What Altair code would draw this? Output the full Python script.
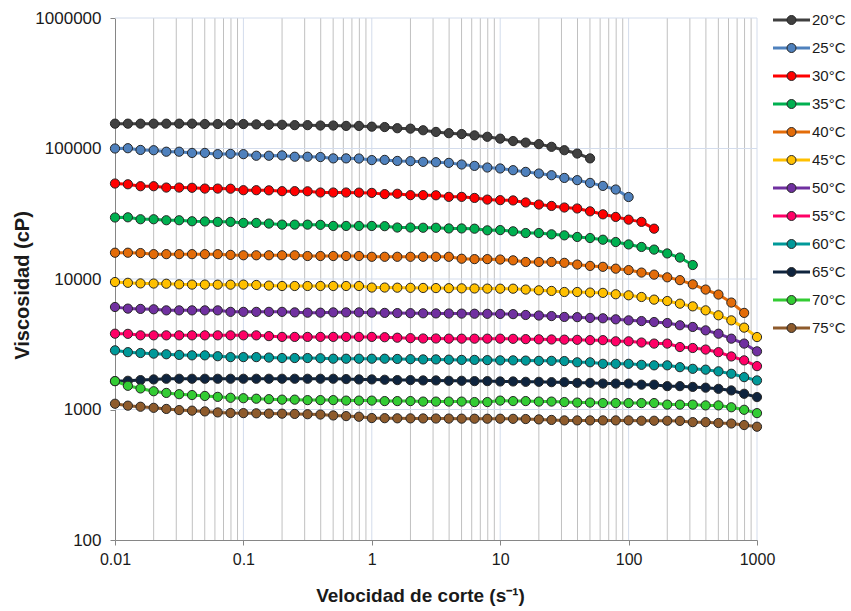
import altair as alt
import pandas as pd

# ---------------- data ----------------
shear = [0.01, 0.0126, 0.0158, 0.02, 0.0251, 0.0316, 0.0398, 0.0501, 0.0631, 0.0794,
         0.1, 0.126, 0.158, 0.2, 0.251, 0.316, 0.398, 0.501, 0.631, 0.794,
         1, 1.26, 1.58, 2, 2.51, 3.16, 3.98, 5.01, 6.31, 7.94,
         10, 12.6, 15.8, 20, 25.1, 31.6, 39.8, 50.1, 63.1, 79.4,
         100, 126, 158, 200, 251, 316, 398, 501, 631, 794, 1000]

temps = ["20°C", "25°C", "30°C", "35°C", "40°C", "45°C",
         "50°C", "55°C", "60°C", "65°C", "70°C", "75°C"]
colors = ["#404040", "#4f81bd", "#ff0000", "#00b050", "#e36c09", "#ffc000",
          "#7030a0", "#ff0066", "#009999", "#0f243e", "#33cc33", "#8e5b2c"]

visc_20 = [155000, 155000, 155000, 155000, 155000, 155000, 155000, 154000, 154000, 154000,
           154000, 153000, 152000, 152000, 151000, 151000, 150000, 150000, 149000, 149000,
           147000, 146000, 143000, 142000, 138000, 134000, 131000, 129000, 126000, 123000,
           119000, 114000, 111000, 108000, 103000, 97000, 91500, 84000]
visc_25 = [100000, 100500, 97500, 97000, 94500, 94500, 92500, 92500, 90500, 91000,
           90500, 88000, 88000, 88500, 86500, 86500, 86000, 84000, 84000, 83800,
           81500, 81800, 80300, 80000, 79000, 78500, 77600, 75400, 73600, 71500,
           70300, 68200, 66200, 64300, 62400, 59500, 57200, 54500, 51700, 48500, 42500]
visc_30 = [53900, 53200, 51400, 51400, 50200, 50200, 50000, 49300, 49300, 49200,
           47900, 47900, 47800, 47100, 47100, 47000, 46000, 46000, 46000, 45900,
           45700, 44700, 45000, 43900, 43900, 43800, 42600, 42600, 41800, 40600,
           40200, 40000, 38600, 37200, 36300, 35300, 34700, 33000, 31300, 29900,
           28500, 27400, 24300]
visc_35 = [29600, 29700, 28700, 28700, 28200, 28200, 27700, 27600, 27400, 27400,
           26900, 26900, 26600, 26100, 26100, 26100, 26000, 25500, 25500, 25500,
           25500, 25400, 24800, 24800, 24700, 24700, 24400, 24400, 24300, 23600,
           23700, 23200, 22500, 22500, 22000, 21600, 21000, 20600, 20000, 19200,
           18400, 17600, 16800, 15700, 14600, 12800]
visc_40 = [15900, 15900, 15800, 15500, 15500, 15500, 15500, 15500, 15500, 15300,
           15200, 15200, 15200, 15200, 15200, 15000, 15000, 15000, 15000, 15000,
           14800, 14800, 14800, 14800, 14800, 14800, 14800, 14300, 14200, 14200,
           14100, 13900, 13500, 13500, 13500, 13300, 12900, 12600, 12400, 12000,
           11700, 11200, 10800, 10300, 9800, 9100, 8300, 7600, 6600, 5500]
visc_45 = [9480, 9350, 9250, 9230, 9200, 9100, 9060, 9060, 9050, 9050,
           9060, 9000, 8900, 8840, 8840, 8840, 8840, 8840, 8840, 8840,
           8600, 8600, 8580, 8560, 8540, 8520, 8500, 8480, 8460, 8440,
           8430, 8430, 8300, 8190, 8100, 7950, 7950, 7870, 7830, 7640,
           7500, 7280, 6950, 6780, 6470, 6170, 5750, 5270, 4820, 4240, 3590]
visc_50 = [6100, 5930, 5900, 5860, 5750, 5750, 5750, 5750, 5750, 5600,
           5600, 5600, 5600, 5600, 5550, 5520, 5520, 5550, 5550, 5550,
           5520, 5500, 5480, 5470, 5460, 5450, 5440, 5430, 5420, 5410,
           5400, 5380, 5300, 5250, 5200, 5120, 5100, 5030, 5000, 4910,
           4820, 4760, 4680, 4600, 4420, 4290, 4040, 3810, 3490, 3200, 2790]
visc_55 = [3810, 3800, 3700, 3700, 3700, 3700, 3700, 3700, 3700, 3700,
           3700, 3700, 3650, 3600, 3600, 3600, 3600, 3600, 3600, 3600,
           3600, 3580, 3550, 3520, 3500, 3500, 3490, 3490, 3490, 3490,
           3490, 3480, 3460, 3450, 3440, 3430, 3420, 3400, 3400, 3330,
           3330, 3260, 3200, 3200, 3010, 2960, 2880, 2750, 2550, 2380, 2150]
visc_60 = [2840, 2750, 2710, 2680, 2650, 2620, 2600, 2600, 2560, 2520,
           2520, 2520, 2500, 2480, 2480, 2480, 2470, 2450, 2450, 2450,
           2450, 2450, 2440, 2430, 2420, 2420, 2410, 2400, 2400, 2390,
           2380, 2380, 2370, 2360, 2360, 2350, 2300, 2300, 2240, 2240,
           2240, 2200, 2180, 2180, 2110, 2050, 2020, 1960, 1880, 1770, 1670]
visc_65 = [1650, 1660, 1680, 1700, 1720, 1720, 1720, 1720, 1720, 1720,
           1720, 1720, 1720, 1720, 1720, 1720, 1720, 1720, 1710, 1700,
           1700, 1690, 1680, 1680, 1670, 1670, 1660, 1660, 1650, 1650,
           1640, 1640, 1630, 1630, 1620, 1620, 1600, 1600, 1580, 1580,
           1580, 1550, 1550, 1510, 1510, 1490, 1470, 1440, 1400, 1320, 1245]
visc_70 = [1650, 1520, 1450, 1380, 1340, 1310, 1290, 1270, 1250, 1230,
           1220, 1210, 1200, 1190, 1190, 1180, 1180, 1180, 1170, 1170,
           1170, 1160, 1160, 1160, 1150, 1150, 1150, 1150, 1140, 1140,
           1170, 1160, 1160, 1150, 1150, 1140, 1130, 1130, 1120, 1120,
           1120, 1120, 1120, 1090, 1090, 1090, 1075, 1075, 1040, 995, 938]
visc_75 = [1107, 1070, 1050, 1030, 1010, 990, 980, 967, 950, 940,
           938, 935, 930, 929, 925, 920, 915, 900, 890, 880,
           860, 858, 856, 855, 854, 853, 852, 851, 850, 850,
           850, 848, 845, 840, 832, 825, 825, 825, 825, 825,
           825, 820, 820, 820, 818, 800, 800, 788, 781, 760, 738]

series = [visc_20, visc_25, visc_30, visc_35, visc_40, visc_45,
          visc_50, visc_55, visc_60, visc_65, visc_70, visc_75]

x_ticks = [0.01, 0.1, 1, 10, 100, 1000]
y_ticks = [100, 1000, 10000, 100000, 1000000]
x_grid_minor = [0.02, 0.03, 0.04, 0.05, 0.06, 0.07, 0.08, 0.09,
                0.2, 0.3, 0.4, 0.5, 0.6, 0.7, 0.8, 0.9,
                2, 3, 4, 5, 6, 7, 8, 9,
                20, 30, 40, 50, 60, 70, 80, 90,
                200, 300, 400, 500, 600, 700, 800, 900]
x_grid_major = [0.1, 1, 10, 100, 1000]
y_grid_major = [1000, 10000, 100000, 1000000]

rows = []
for name, vals in zip(temps, series):
    for xv, yv in zip(shear, vals):
        rows.append({"shear": xv, "visc": yv, "temp": name, "temp_pt": name})
df = pd.DataFrame(rows)

# ---------------- chart ----------------
FONT = "Liberation Sans"
xscale = alt.Scale(type="log", domain=[0.01, 1000], nice=False)
yscale = alt.Scale(type="log", domain=[100, 1000000], nice=False)

x_axis = alt.Axis(values=x_ticks, labelExpr="toString(datum.value)", grid=False,
                  labelFlush=False, labelOverlap=False,
                  tickSize=5, tickColor="#868686", domainColor="#868686",
                  labelFont=FONT, labelFontSize=16, labelColor="#1a1a1a", labelPadding=6,
                  title="Velocidad de corte (s⁻¹)", titleFont=FONT, titleFontSize=19,
                  titleFontWeight="bold", titleColor="#1a1a1a",
                  titleX=305, titleY=55, titleBaseline="middle")
y_axis = alt.Axis(values=y_ticks, format="d", grid=False,
                  labelFlush=False, labelOverlap=False,
                  tickSize=5, tickColor="#868686", domainColor="#868686",
                  labelFont=FONT, labelFontSize=17, labelColor="#1a1a1a", labelPadding=9,
                  title="Viscosidad (cP)", titleFont=FONT, titleFontSize=20,
                  titleFontWeight="bold", titleColor="#1a1a1a",
                  titleX=-93, titleY=267, titleBaseline="middle", titleAngle=270)

grid_minor = alt.Chart(pd.DataFrame({"g": x_grid_minor})).mark_rule(
    color="#c0c0c0", strokeWidth=1).encode(x=alt.X("g:Q", scale=xscale, axis=x_axis))
grid_major_x = alt.Chart(pd.DataFrame({"g": x_grid_major})).mark_rule(
    color="#d3dcec", strokeWidth=1).encode(x=alt.X("g:Q", scale=xscale, axis=x_axis))
grid_major_y = alt.Chart(pd.DataFrame({"g": y_grid_major})).mark_rule(
    color="#d3dcec", strokeWidth=1).encode(y=alt.Y("g:Q", scale=yscale, axis=y_axis))

LEG_X = 669
LEG_Y = -5.5
lines = alt.Chart(df).mark_line(strokeWidth=3).encode(
    x=alt.X("shear:Q", scale=xscale, axis=x_axis),
    y=alt.Y("visc:Q", scale=yscale, axis=y_axis),
    color=alt.Color("temp:N", scale=alt.Scale(domain=temps, range=colors),
                    legend=alt.Legend(title=None, orient="none", legendX=LEG_X, legendY=LEG_Y,
                                      symbolType="M-3.7,0H3.7", symbolSize=100,
                                      symbolStrokeWidth=3, labelFont=FONT,
                                      labelFontSize=15, labelColor="#1a1a1a",
                                      labelOffset=13, rowPadding=12, padding=0)),
)

points = alt.Chart(df).mark_circle(size=85, stroke="#262626", strokeWidth=1, opacity=1).encode(
    x=alt.X("shear:Q", scale=xscale, axis=x_axis),
    y=alt.Y("visc:Q", scale=yscale, axis=y_axis),
    fill=alt.Fill("temp_pt:N", scale=alt.Scale(range=colors),
                  legend=alt.Legend(title=None, orient="none", legendX=LEG_X, legendY=LEG_Y,
                                    symbolType="M0.9,0A0.9,0.9,0,1,1,-0.9,0A0.9,0.9,0,1,1,0.9,0Z",
                                    symbolSize=100, symbolStrokeWidth=1,
                                    symbolStrokeColor="#262626", symbolOpacity=1,
                                    labelFont=FONT, labelFontSize=15, labelExpr="''",
                                    labelOffset=13, rowPadding=12, padding=0)),
)

chart = alt.layer(grid_minor, grid_major_x, grid_major_y, lines, points).properties(
    width=642, height=522,
    autosize=alt.AutoSizeParams(type="none"),
    padding={"left": 115, "top": 18, "right": 94, "bottom": 71},
    background="white",
).configure_view(stroke=None)

chart.save("out.html", embed_options={"renderer": "svg", "actions": False})
